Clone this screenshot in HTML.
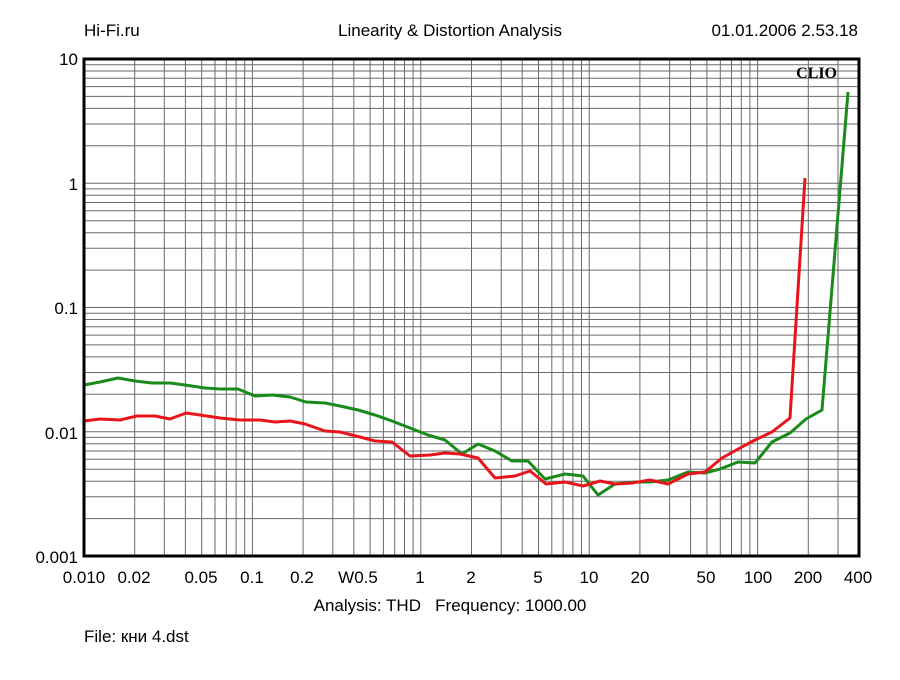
<!DOCTYPE html>
<html><head><style>
body{margin:0;background:#fff;}
text{font-family:"Liberation Sans",Arial,sans-serif;font-size:17px;fill:#000;}
</style></head><body>
<svg width="900" height="675" xmlns="http://www.w3.org/2000/svg">
<rect width="900" height="675" fill="#fff"/>
<g id="grid" stroke="#6a6a6a" stroke-width="1"></g>
<text x="84" y="36">Hi-Fi.ru</text>
<text x="450" y="36" text-anchor="middle">Linearity &amp; Distortion Analysis</text>
<text x="858" y="36" text-anchor="end">01.01.2006 2.53.18</text>
<g text-anchor="end">
<text x="78" y="65">10</text><text x="78" y="190">1</text><text x="78" y="314">0.1</text><text x="78" y="439">0.01</text><text x="78" y="563">0.001</text>
</g>
<g text-anchor="middle">
<text x="84" y="583">0.010</text><text x="134" y="583">0.02</text><text x="201" y="583">0.05</text><text x="252" y="583">0.1</text><text x="302" y="583">0.2</text><text x="358" y="583">W0.5</text><text x="420" y="583">1</text><text x="471" y="583">2</text><text x="538" y="583">5</text><text x="589" y="583">10</text><text x="640" y="583">20</text><text x="706" y="583">50</text><text x="758" y="583">100</text><text x="808" y="583">200</text><text x="858" y="583">400</text>
</g>
<text x="450" y="611" text-anchor="middle">Analysis: THD&#160;&#160;&#160;Frequency: 1000.00</text>
<text x="84" y="642">File: кни 4.dst</text>
<text x="837" y="78" text-anchor="end" style="font-family:'Liberation Serif',serif;font-weight:bold;font-size:16px">CLIO</text>
<polyline fill="none" stroke="#1a8a1a" stroke-width="3" stroke-linejoin="round" points="84,385 100,382 118,378 135,381 152,383 170,383 185,385 205,388 220,389 238,389 255,396 272,395 290,397 306,402 325,403 340,406 358,410 375,415 392,421 410,428 428,435 445,440 462,454 478,444 495,451 512,461 528,461 545,479 565,474 583,476 598,495 615,484 635,482 650,482 668,480 688,472 705,473 720,469 738,462 755,463 772,442 790,433 806,419 822,410 848,92"/>
<polyline fill="none" stroke="#e8141c" stroke-width="3" stroke-linejoin="round" points="84,421 100,419 120,420 137,416 155,416 170,419 186,413 200,415 220,418 240,420 260,420 275,422 290,421 305,424 325,431 340,432 360,437 375,441 392,442 410,456 430,455 445,453 460,454 478,458 495,478 515,476 530,471 546,484 565,482 583,486 600,481 615,484 632,483 650,480 668,484 688,474 705,472 722,458 740,448 755,440 772,432 790,418 805,178"/>
<rect x="84" y="59" width="775" height="497" fill="none" stroke="#000" stroke-width="3"/>
</svg>
<script>
(function(){
var g=document.getElementById('grid'),ns='http://www.w3.org/2000/svg';
function L(x1,y1,x2,y2){var l=document.createElementNS(ns,'line');l.setAttribute('x1',x1);l.setAttribute('y1',y1);l.setAttribute('x2',x2);l.setAttribute('y2',y2);g.appendChild(l);}
var x0=84,x1=859,y0=59,y1=556,dx=(x1-x0)/Math.log10(40000),dy=(y1-y0)/4;
for(var d=-2;d<=2;d++)for(var m=1;m<10;m++){var v=m*Math.pow(10,d);if(v>400)break;var x=x0+(Math.log10(v)+2)*dx;L(x.toFixed(1),y0,x.toFixed(1),y1);}
for(var d=-3;d<1;d++)for(var m=1;m<10;m++){var y=y1-(Math.log10(m*Math.pow(10,d))+3)*dy;L(x0,y.toFixed(1),x1,y.toFixed(1));}
})();
</script>
</body></html>
